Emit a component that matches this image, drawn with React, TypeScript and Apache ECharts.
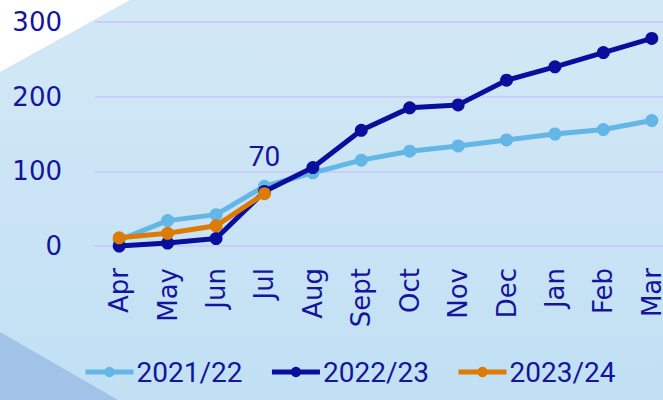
import React, { useEffect, useRef } from "react";
import * as echarts from "echarts";

const months = ["Apr", "May", "Jun", "Jul", "Aug", "Sept", "Oct", "Nov", "Dec", "Jan", "Feb", "Mar"];
const seriesNames = ["2021/22", "2022/23", "2023/24"];
const values2122 = [8, 34, 42, 80, 98, 115, 127, 134, 142, 150, 156, 168];
const values2223 = [0, 4, 10, 73, 105, 155, 185, 189, 222, 240, 259, 278];
const values2324 = [11, 17, 27, 70];
const yTicks = { min: 0, max: 300, interval: 100 };
const colors = ["#63b6e6", "#0a0e9c", "#dc7b06"];

export default function App() {
  const ref = useRef<HTMLDivElement>(null);
  useEffect(() => {
    if (!ref.current) return;
    const chart = echarts.init(ref.current, null, { renderer: "svg" });
    const textColor = "#14149e";
    const mk = (name: string, data: any[], color: string, z: number) => ({
      name,
      type: "line",
      data,
      z,
      symbol: "circle",
      symbolSize: 13,
      lineStyle: { width: 5, color },
      itemStyle: { color },
      emphasis: { disabled: true },
    });
    const orangeData = values2324.map((v, i) =>
      i === values2324.length - 1
        ? {
            value: v,
            label: {
              show: true,
              position: "top",
              distance: 17,
              color: textColor,
              fontSize: 28,
              fontFamily: "Roboto",
            },
          }
        : v
    );
    chart.setOption({
      animation: false,
      backgroundColor: {
        type: "linear",
        x: 0,
        y: 0,
        x2: 0,
        y2: 1,
        colorStops: [
          { offset: 0, color: "#d3e8f6" },
          { offset: 1, color: "#c1e0f4" },
        ],
      },
      graphic: [
        {
          type: "polygon",
          z: -10,
          silent: true,
          shape: { points: [[0, 0], [130, 0], [0, 72]] },
          style: { fill: "#ffffff" },
        },
        {
          type: "polygon",
          z: -10,
          silent: true,
          shape: { points: [[0, 332], [118, 400], [0, 400]] },
          style: { fill: "#a0c3e7" },
        },
      ],
      grid: { left: 95, right: 14, top: 22, bottom: 154, containLabel: false },
      legend: {
        left: 78,
        top: 353,
        itemWidth: 48,
        itemHeight: 13,
        itemGap: 27,
        lineStyle: { width: 5 },
        textStyle: { color: textColor, fontSize: 28, fontFamily: "Roboto", padding: [0, 0, 0, -2] },
        data: seriesNames,
      },
      xAxis: {
        type: "category",
        data: months,
        boundaryGap: true,
        axisLine: { show: false },
        axisTick: { show: false },
        axisLabel: {
          rotate: 90,
          margin: 22,
          color: textColor,
          fontSize: 26,
          fontFamily: "DejaVu Sans",
        },
      },
      yAxis: {
        type: "value",
        min: yTicks.min,
        max: yTicks.max,
        interval: yTicks.interval,
        axisLine: { show: false },
        axisTick: { show: false },
        splitLine: { lineStyle: { color: "#c9c5f7", width: 1.5 } },
        axisLabel: {
          margin: 33,
          color: textColor,
          fontSize: 26,
          fontFamily: "DejaVu Sans",
        },
      },
      series: [
        mk(seriesNames[0], values2122, colors[0], 2),
        mk(seriesNames[1], values2223, colors[1], 3),
        mk(seriesNames[2], orangeData, colors[2], 4),
      ],
    });
    return () => chart.dispose();
  }, []);
  return (
    <div style={{ position: "fixed", left: 0, top: 0, width: 663, height: 400, overflow: "hidden" }}>
      <div ref={ref} style={{ width: 690, height: 400 }} />
    </div>
  );
}
